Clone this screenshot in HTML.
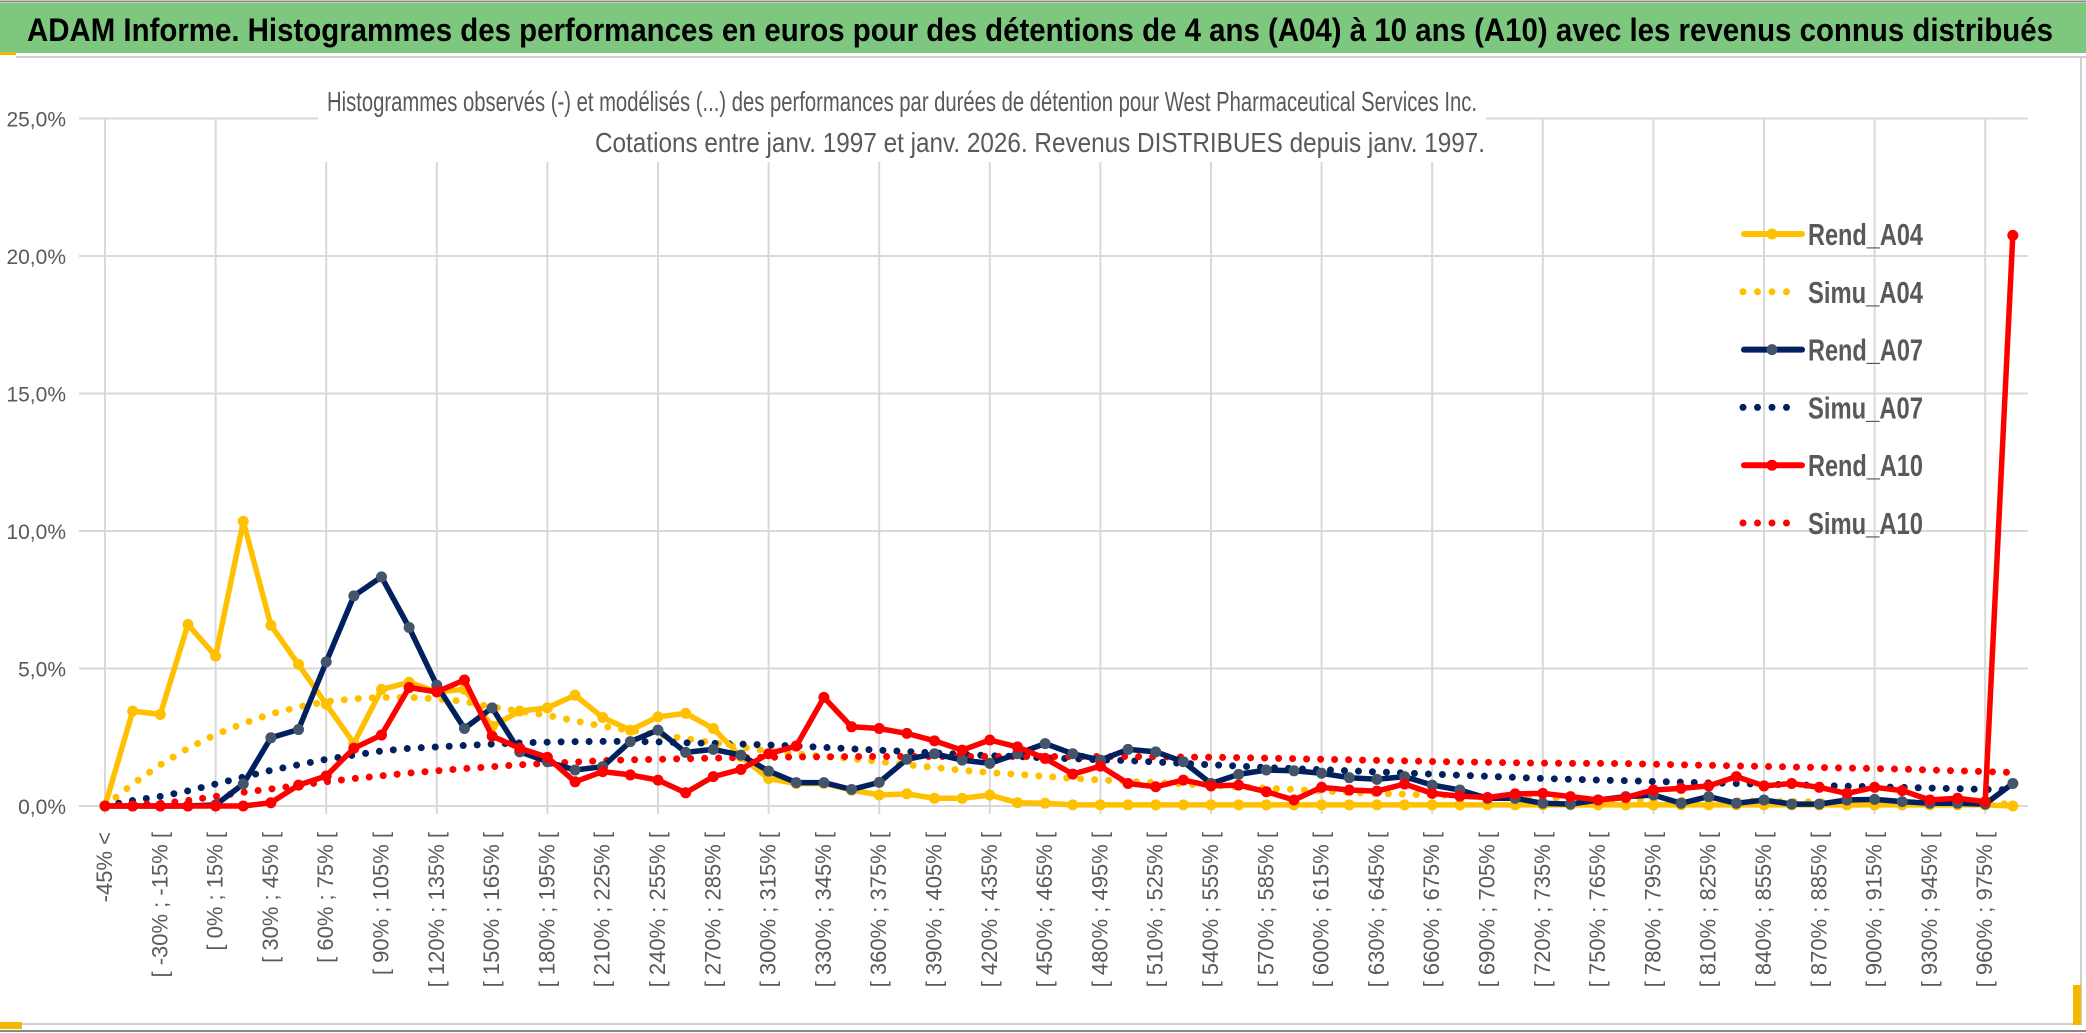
<!DOCTYPE html>
<html><head><meta charset="utf-8"><style>
html,body{margin:0;padding:0;background:#fff;}
svg{display:block;}
text{font-family:"Liberation Sans",sans-serif;}
</style></head><body>
<svg id="chart" width="2086" height="1033" viewBox="0 0 2086 1033" xmlns="http://www.w3.org/2000/svg">
<rect x="0" y="0" width="2086" height="1033" fill="#fff"/>
<rect x="0" y="3" width="2086" height="50" fill="#7DC87E"/>
<line x1="0" y1="1.5" x2="2086" y2="1.5" stroke="#888" stroke-width="2"/>
<rect x="0" y="52" width="16" height="3" fill="#F5B800"/>
<text x="27" y="41" font-size="32" font-weight="bold" fill="#000" textLength="2026" lengthAdjust="spacingAndGlyphs">ADAM Informe. Histogrammes des performances en euros pour des détentions de 4 ans (A04) à 10 ans (A10) avec les revenus connus distribués</text>
<line x1="16" y1="57" x2="2086" y2="57" stroke="#d0d0d0" stroke-width="2"/>
<line x1="2081" y1="57" x2="2081" y2="1025" stroke="#d0d0d0" stroke-width="2"/>
<line x1="0" y1="1024" x2="2081" y2="1024" stroke="#d0d0d0" stroke-width="2"/>
<line x1="0" y1="1031" x2="2086" y2="1031" stroke="#888" stroke-width="2"/>
<rect x="0" y="1022" width="22" height="7" fill="#F5B800"/>
<rect x="2073" y="985" width="8" height="40" fill="#F5B800"/>
<g id="grid"></g>
<rect x="318" y="78" width="1168" height="84" fill="#fff"/>
<text x="902" y="111" font-size="28" fill="#595959" text-anchor="middle" textLength="1150" lengthAdjust="spacingAndGlyphs">Histogrammes observés (-) et modélisés (...) des performances par durées de détention pour West Pharmaceutical Services Inc.</text>
<text x="1040" y="152" font-size="28" fill="#595959" text-anchor="middle" textLength="890" lengthAdjust="spacingAndGlyphs">Cotations entre janv. 1997 et janv. 2026. Revenus DISTRIBUES depuis janv. 1997.</text>
<g id="axes"></g>
<g id="series"></g>
<g id="legend"></g>
</svg>
<script>
const categoriesCount = 70;
const yTicks = [0, 5, 10, 15, 20, 25];
const yTickLabels = ["0,0%", "5,0%", "10,0%", "15,0%", "20,0%", "25,0%"];
const rendA04 = [0,3.45,3.33,6.6,5.45,10.35,6.57,5.15,3.7,2.28,4.24,4.5,4.15,4.24,2.9,3.45,3.57,4.03,3.22,2.76,3.24,3.37,2.82,1.8,1.0,0.82,0.82,0.58,0.4,0.44,0.28,0.28,0.4,0.12,0.1,0.04,0.04,0.04,0.04,0.04,0.04,0.04,0.04,0.04,0.04,0.04,0.04,0.04,0.04,0.04,0.04,0.04,0.04,0.04,0.04,0.04,0.04,0.04,0.04,0.04,0.04,0.04,0.04,0.04,0.04,0.04,0.04,0.04,0.04,0];
const simuA04 = [0,0.8,1.5,2.1,2.6,3.0,3.35,3.6,3.8,3.9,3.95,3.95,3.9,3.8,3.6,3.45,3.3,3.1,2.9,2.75,2.6,2.45,2.3,2.15,2.0,1.9,1.8,1.72,1.62,1.5,1.4,1.3,1.22,1.15,1.08,1.0,0.95,0.9,0.85,0.8,0.75,0.7,0.65,0.6,0.55,0.5,0.46,0.43,0.4,0.37,0.34,0.32,0.3,0.28,0.26,0.24,0.22,0.21,0.2,0.18,0.17,0.16,0.15,0.14,0.13,0.12,0.11,0.1,0.09,0.08];
const rendA07 = [0,0,0,0,0.04,0.8,2.48,2.78,5.24,7.64,8.33,6.49,4.39,2.82,3.57,1.97,1.61,1.31,1.43,2.34,2.76,1.95,2.06,1.85,1.27,0.85,0.85,0.6,0.86,1.7,1.9,1.67,1.55,1.9,2.27,1.9,1.67,2.06,1.97,1.61,0.82,1.15,1.31,1.28,1.19,1.03,0.97,1.07,0.76,0.58,0.28,0.28,0.1,0.07,0.22,0.34,0.4,0.1,0.34,0.1,0.22,0.07,0.07,0.22,0.24,0.16,0.1,0.1,0.07,0.82];
const simuA07 = [0,0.2,0.35,0.55,0.8,1.05,1.3,1.5,1.7,1.85,2.0,2.1,2.15,2.2,2.25,2.3,2.32,2.34,2.35,2.35,2.33,2.3,2.28,2.25,2.22,2.18,2.13,2.08,2.03,1.98,1.93,1.88,1.83,1.8,1.75,1.72,1.68,1.65,1.6,1.55,1.5,1.45,1.4,1.36,1.32,1.28,1.24,1.2,1.16,1.12,1.08,1.04,1.0,0.97,0.94,0.92,0.89,0.87,0.84,0.82,0.79,0.77,0.75,0.72,0.7,0.68,0.65,0.63,0.6,0.58];
const rendA10 = [0,0,0,0,0,0,0.12,0.76,1.09,2.1,2.58,4.31,4.15,4.58,2.54,2.1,1.77,0.88,1.25,1.13,0.94,0.48,1.07,1.33,1.9,2.18,3.95,2.88,2.82,2.64,2.37,2.03,2.4,2.15,1.73,1.16,1.45,0.82,0.7,0.94,0.73,0.76,0.52,0.22,0.68,0.58,0.54,0.8,0.46,0.36,0.31,0.44,0.46,0.34,0.22,0.31,0.58,0.64,0.73,1.07,0.73,0.82,0.68,0.46,0.68,0.56,0.22,0.28,0.16,20.75];
const simuA10 = [0,0.05,0.1,0.2,0.35,0.5,0.62,0.75,0.88,1.0,1.1,1.2,1.28,1.36,1.43,1.5,1.55,1.6,1.65,1.68,1.7,1.72,1.74,1.76,1.77,1.78,1.79,1.8,1.8,1.8,1.8,1.8,1.8,1.8,1.8,1.8,1.8,1.8,1.79,1.78,1.77,1.76,1.74,1.72,1.7,1.68,1.66,1.64,1.62,1.6,1.59,1.57,1.56,1.55,1.55,1.54,1.52,1.5,1.48,1.46,1.44,1.42,1.4,1.38,1.36,1.34,1.31,1.28,1.25,1.22];

function catLabel(i){ if(i===0) return "-45% <"; const a=-45+15*(i-1); return "[ "+a+"% ; "+(a+15)+"% ["; }
const NS="http://www.w3.org/2000/svg";
const X0=105, STEP=27.65, Y0=806, YPX=27.5;
function xs(i){return X0+STEP*i;}
function ys(v){return Y0-v*YPX;}
function mk(tag,attrs,parent){const e=document.createElementNS(NS,tag);for(const k in attrs)e.setAttribute(k,attrs[k]);parent.appendChild(e);return e;}
const grid=document.getElementById('grid'), axes=document.getElementById('axes'), ser=document.getElementById('series'), leg=document.getElementById('legend');
yTicks.forEach((t,k)=>{
  const l=mk('line',{x1:79,x2:2028,y1:ys(t),y2:ys(t),stroke:'#d9d9d9','stroke-width':2},grid);
  
  
  const tx=mk('text',{x:66,y:ys(t)+8,'font-size':21,fill:'#595959','text-anchor':'end'},axes);
  tx.textContent=yTickLabels[k];
  
  
});
for(let i=0;i<categoriesCount;i+=4){
  const l=mk('line',{x1:xs(i),x2:xs(i),y1:ys(25),y2:Y0+8,stroke:'#d9d9d9','stroke-width':2},grid);
  
  
}
for(let i=0;i<categoriesCount;i+=2){
  const x=xs(i)+7, y=832;
  const tx=mk('text',{x:x,y:y,'font-size':22,fill:'#595959','text-anchor':'end',transform:'rotate(-90 '+x+' '+y+')'},axes);
  tx.textContent=catLabel(i);
  
  
}
function pts(arr){return arr.map((v,i)=>xs(i).toFixed(1)+','+ys(v).toFixed(1)).join(' ');}
function dotted(arr,color,name){
  const p=mk('polyline',{points:pts(arr),fill:'none',stroke:color,'stroke-width':7,'stroke-linecap':'round','stroke-dasharray':'0 14'},ser);
  
  
}
function solid(arr,color,mcolor,name){
  const g=mk('g',{},ser);
  
  
  mk('polyline',{points:pts(arr),fill:'none',stroke:color,'stroke-width':5.5,'stroke-linejoin':'round'},g);
  arr.forEach((v,i)=>{
    const c=mk('circle',{cx:xs(i),cy:ys(v),r:5.5,fill:mcolor},g);
    
    
  });
}
dotted(simuA04,'#FFC000','series-simu-a04');
dotted(simuA07,'#002060','series-simu-a07');
dotted(simuA10,'#FF0000','series-simu-a10');
solid(rendA04,'#FFC000','#FFC000','series-rend-a04');
solid(rendA07,'#002060','#44546A','series-rend-a07');
solid(rendA10,'#FF0000','#FF0000','series-rend-a10');
const legendItems=[['Rend_A04','#FFC000','#FFC000',true],['Simu_A04','#FFC000','',false],['Rend_A07','#002060','#44546A',true],['Simu_A07','#002060','',false],['Rend_A10','#FF0000','#FF0000',true],['Simu_A10','#FF0000','',false]];
legendItems.forEach((it,k)=>{
  const y=234+k*57.8;
  const g=mk('g',{},leg);
  
  
  if(it[3]){
    mk('line',{x1:1744,x2:1802,y1:y,y2:y,stroke:it[1],'stroke-width':6,'stroke-linecap':'round'},g);
    mk('circle',{cx:1772,cy:y,r:5.5,fill:it[2]},g);
  } else {
    mk('line',{x1:1743,x2:1800,y1:y,y2:y,stroke:it[1],'stroke-width':7,'stroke-linecap':'round','stroke-dasharray':'0 14.5'},g);
  }
  const t=mk('text',{x:1808,y:y+11,'font-size':31,'font-weight':'bold',fill:'#595959',textLength:115,lengthAdjust:'spacingAndGlyphs'},g);
  t.textContent=it[0];
});
</script>
</body></html>
